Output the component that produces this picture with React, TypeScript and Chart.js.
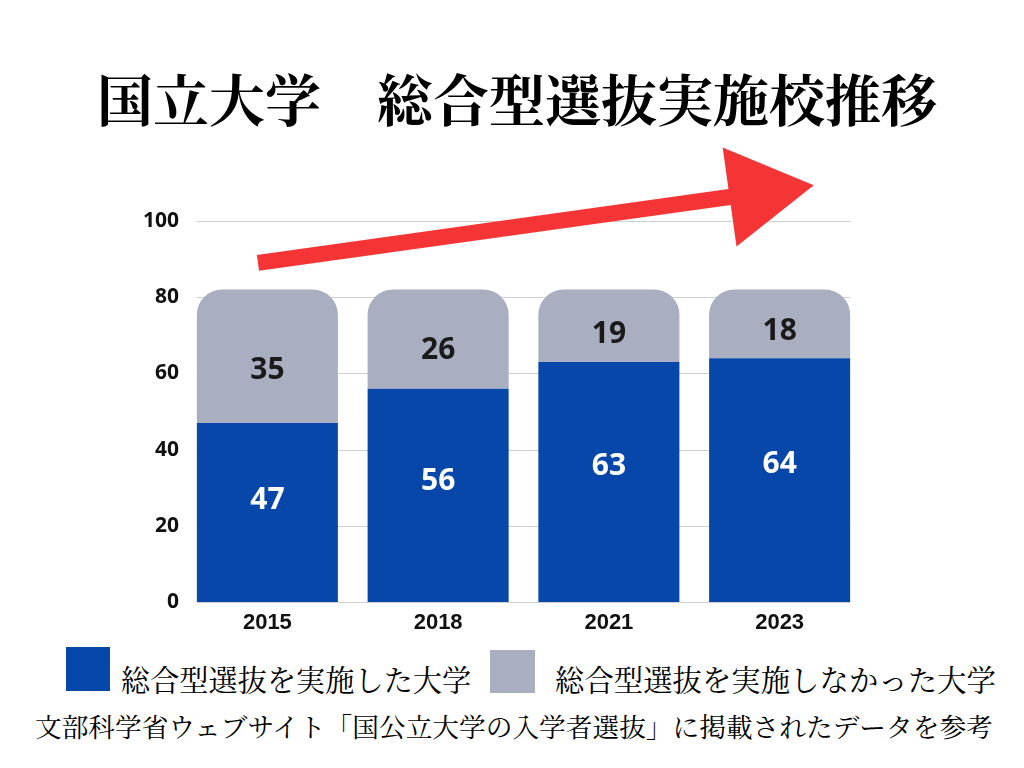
import React, { useEffect, useRef } from "react";
import { Chart, registerables } from "chart.js";

Chart.register(...registerables);

const titleText = "国立大学　総合型選抜実施校推移";
const years = ["2015", "2018", "2021", "2023"];
const implemented = [47, 56, 63, 64];
const notImplemented = [35, 26, 19, 18];
const seriesNames = ["総合型選抜を実施した大学", "総合型選抜を実施しなかった大学"];
const sourceText = "文部科学省ウェブサイト「国公立大学の入学者選抜」に掲載されたデータを参考";
const yMin = 0;
const yMax = 100;
const yStep = 20;
// trend arrow in data units: [category index, value]
const arrowTail = [-0.055, 89];
const arrowTip = [3.2, 109.4];

const BLUE = "#0747a9";
const GRAY = "#a9afc1";
const RED = "#f53535";
const JP = '"Noto Serif CJK JP", "Noto Sans CJK JP", sans-serif';

const overlayPlugin = {
  id: "overlay",
  beforeDatasetsDraw(chart: any) {
    const ctx = chart.ctx;
    const y = chart.scales.y;
    const m0 = chart.getDatasetMeta(0).data;
    const first = m0[0];
    const last = m0[m0.length - 1];
    const left = first.x - first.width / 2;
    const right = last.x + last.width / 2;
    ctx.save();
    ctx.strokeStyle = "#cfcfcf";
    ctx.lineWidth = 1;
    for (let v = yMin; v <= yMax; v += yStep) {
      const py = Math.round(y.getPixelForValue(v)) + 0.5;
      ctx.beginPath();
      ctx.moveTo(left, py);
      ctx.lineTo(right, py);
      ctx.stroke();
    }
    ctx.restore();
  },
  afterDatasetsDraw(chart: any) {
    const ctx = chart.ctx;
    const y = chart.scales.y;
    ctx.save();
    ctx.font = '700 30px "Open Sans", sans-serif';
    ctx.textAlign = "center";
    ctx.textBaseline = "middle";
    const m0 = chart.getDatasetMeta(0).data;
    const m1 = chart.getDatasetMeta(1).data;
    implemented.forEach((v, i) => {
      ctx.fillStyle = "#ffffff";
      ctx.fillText(String(v), m0[i].x, y.getPixelForValue(v * 0.57) + 1);
      const n = notImplemented[i];
      ctx.fillStyle = "#1a1a1a";
      ctx.fillText(String(n), m1[i].x, y.getPixelForValue(v + n * 0.4) + 1);
    });
    ctx.restore();
  },
  afterDraw(chart: any) {
    const ctx = chart.ctx;
    const xs = chart.scales.x;
    const ys = chart.scales.y;
    const tx = xs.getPixelForValue(arrowTail[0]);
    const ty = ys.getPixelForValue(arrowTail[1]);
    const hx = xs.getPixelForValue(arrowTip[0]);
    const hy = ys.getPixelForValue(arrowTip[1]);
    const dx = hx - tx;
    const dy = hy - ty;
    const len = Math.hypot(dx, dy);
    const ux = dx / len;
    const uy = dy / len;
    const nx = -uy;
    const ny = ux;
    const headLen = 85;
    const headHalf = 50;
    const shaftHalf = 8;
    const bx = hx - ux * headLen;
    const by = hy - uy * headLen;
    ctx.save();
    ctx.fillStyle = RED;
    ctx.beginPath();
    ctx.moveTo(tx + nx * shaftHalf, ty + ny * shaftHalf);
    ctx.lineTo(bx + nx * shaftHalf, by + ny * shaftHalf);
    ctx.lineTo(bx + nx * headHalf, by + ny * headHalf);
    ctx.lineTo(hx, hy);
    ctx.lineTo(bx - nx * headHalf, by - ny * headHalf);
    ctx.lineTo(bx - nx * shaftHalf, by - ny * shaftHalf);
    ctx.lineTo(tx - nx * shaftHalf, ty - ny * shaftHalf);
    ctx.closePath();
    ctx.fill();
    ctx.restore();
  },
};

function BarChart() {
  const ref = useRef<HTMLCanvasElement | null>(null);
  useEffect(() => {
    if (!ref.current) return;
    const chart = new Chart(ref.current, {
      type: "bar",
      data: {
        labels: years,
        datasets: [
          {
            label: seriesNames[0],
            data: implemented,
            backgroundColor: BLUE,
            borderWidth: 0,
            borderRadius: 0,
          },
          {
            label: seriesNames[1],
            data: notImplemented,
            backgroundColor: GRAY,
            borderWidth: 0,
            borderSkipped: false,
            borderRadius: { topLeft: 25, topRight: 25, bottomLeft: 0, bottomRight: 0 },
          },
        ],
      },
      options: {
        animation: false,
        responsive: false,
        devicePixelRatio: 1,
        datasets: { bar: { barPercentage: 0.826, categoryPercentage: 1 } },
        layout: { padding: { left: 0, right: 159, top: 81, bottom: 0 } },
        scales: {
          x: {
            stacked: true,
            grid: { display: false, drawTicks: false },
            border: { display: false },
            ticks: {
              padding: 8,
              color: "#111",
              font: { family: '"Liberation Sans", Arial, sans-serif', size: 22, weight: "bold" },
            },
            afterFit: (s: any) => {
              s.height = 38;
            },
          },
          y: {
            stacked: true,
            min: yMin,
            max: yMax,
            grid: { display: false, drawTicks: false },
            border: { display: false },
            ticks: {
              stepSize: yStep,
              padding: 3,
              color: "#111",
              font: { family: '"Open Sans", sans-serif', size: 21, weight: "bold" },
            },
            afterFit: (s: any) => {
              s.width = 182;
            },
          },
        },
        plugins: {
          legend: { display: false },
          tooltip: { enabled: false },
          title: { display: false },
        },
      },
      plugins: [overlayPlugin],
    } as any);
    return () => chart.destroy();
  }, []);
  return (
    <canvas
      ref={ref}
      width={1024}
      height={500}
      style={{ position: "absolute", left: 0, top: 140, width: 1024, height: 500 }}
    />
  );
}

export default function App() {
  return (
    <div
      style={{
        position: "absolute",
        left: 0,
        top: 0,
        width: 1024,
        height: 768,
        background: "#ffffff",
        overflow: "hidden",
      }}
    >
      <div
        style={{
          position: "absolute",
          left: 0,
          width: 1024,
          top: 62,
          textAlign: "center",
          fontFamily: JP,
          fontWeight: 700,
          fontSize: 56,
          lineHeight: "70px",
          color: "#000",
          whiteSpace: "pre",
          paddingLeft: 10,
          boxSizing: "border-box",
        }}
      >
        {titleText}
      </div>
      <BarChart />
      <div style={{ position: "absolute", left: 66, top: 647, width: 44, height: 44, background: BLUE }} />
      <div
        style={{
          position: "absolute",
          left: 121,
          top: 658,
          fontFamily: JP,
          fontSize: 29.2,
          lineHeight: "40px",
          color: "#000",
          whiteSpace: "nowrap",
        }}
      >
        {seriesNames[0]}
      </div>
      <div style={{ position: "absolute", left: 490, top: 650, width: 45, height: 43, background: GRAY }} />
      <div
        style={{
          position: "absolute",
          left: 555,
          top: 658,
          fontFamily: JP,
          fontSize: 29.4,
          lineHeight: "40px",
          color: "#000",
          whiteSpace: "nowrap",
        }}
      >
        {seriesNames[1]}
      </div>
      <div
        style={{
          position: "absolute",
          left: 35,
          top: 707,
          fontFamily: JP,
          fontSize: 26.7,
          lineHeight: "38px",
          color: "#000",
          whiteSpace: "nowrap",
        }}
      >
        {sourceText}
      </div>
    </div>
  );
}
